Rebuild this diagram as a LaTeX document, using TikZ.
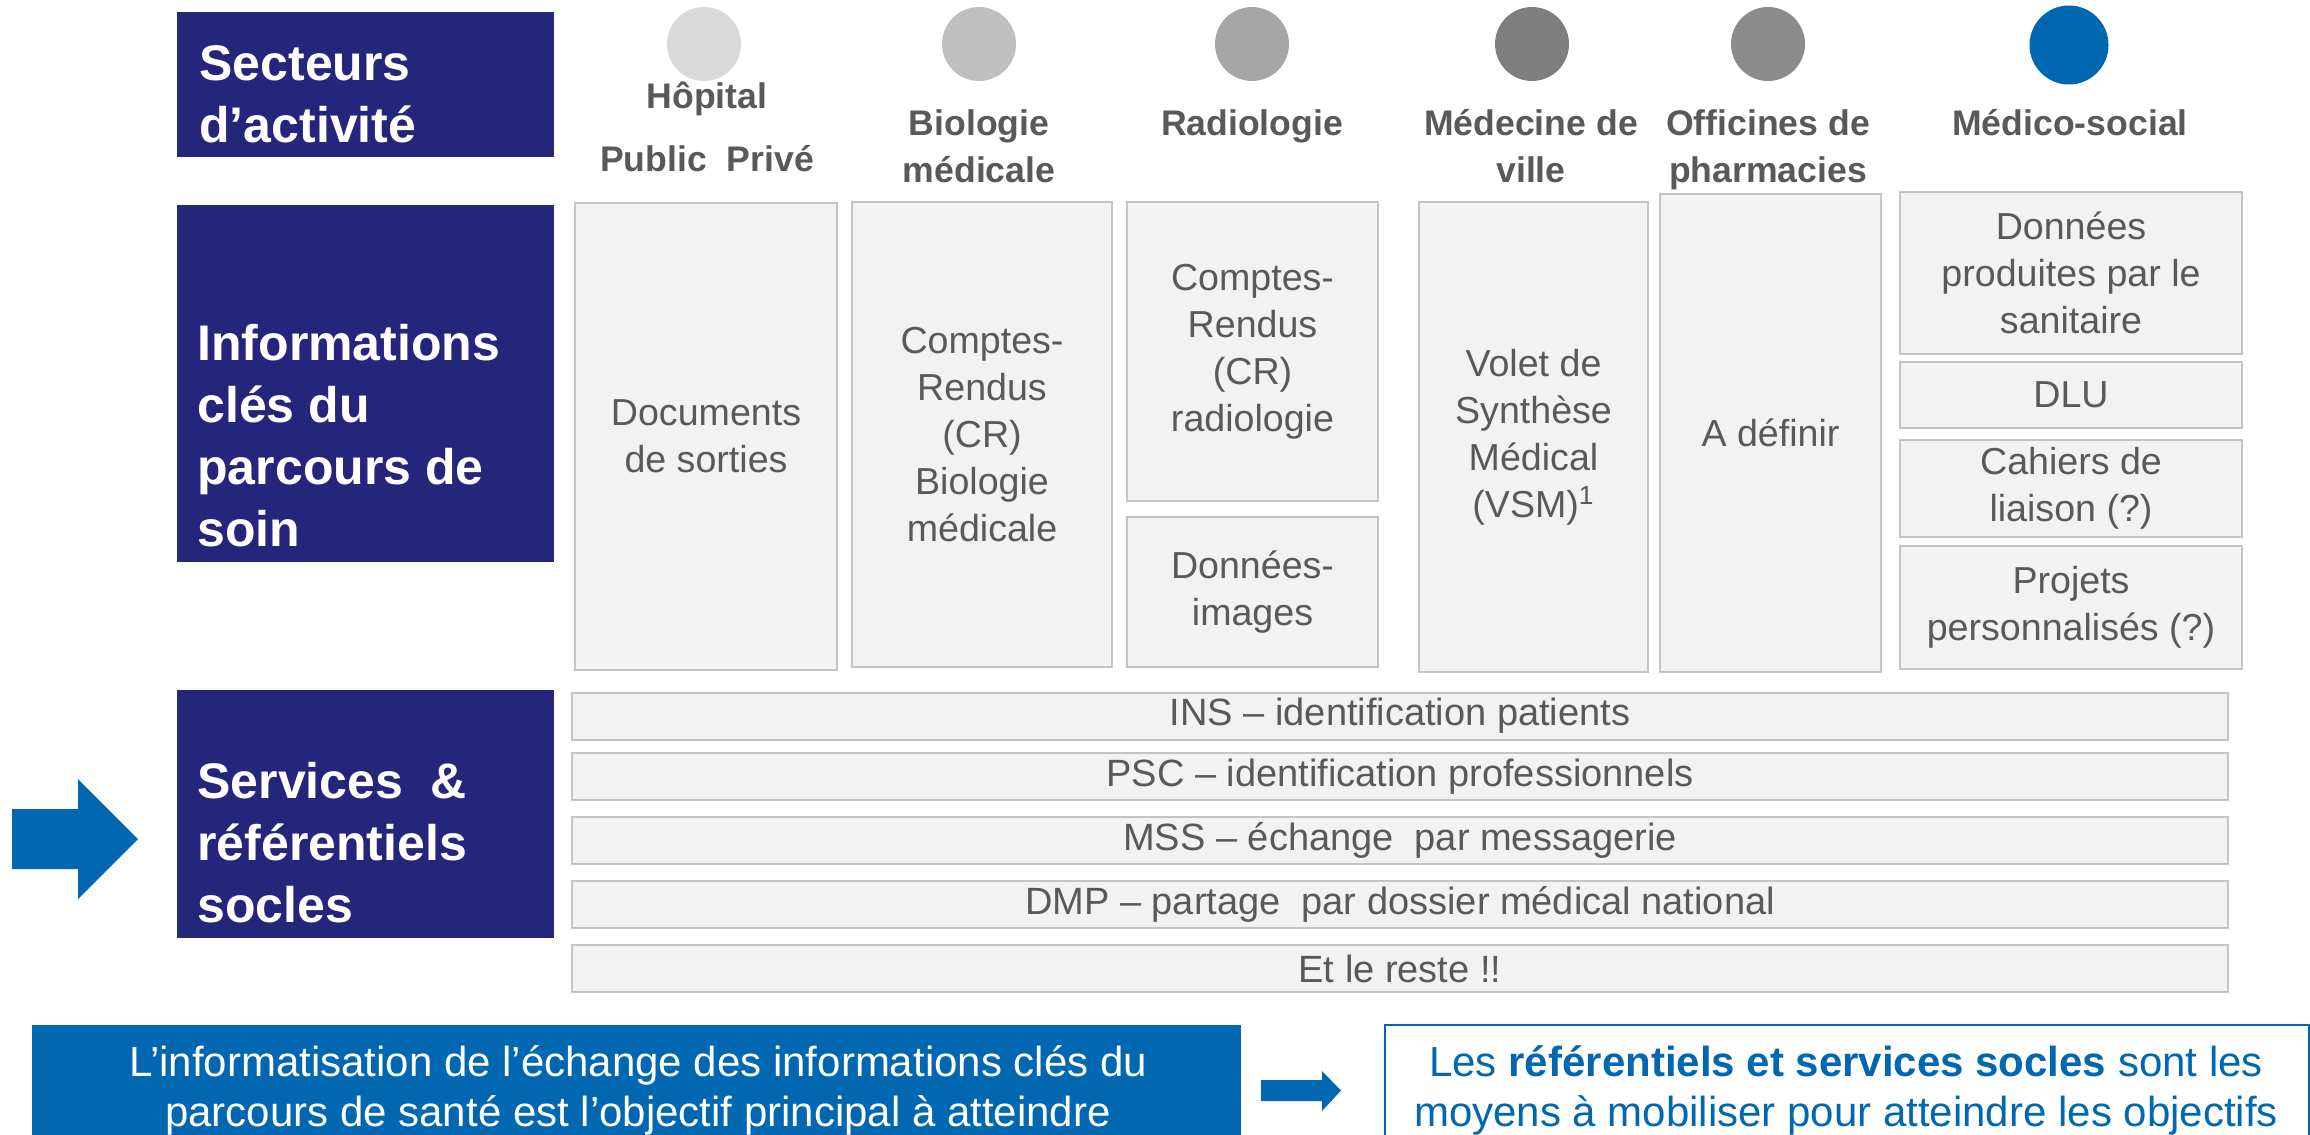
\documentclass[tikz,border=0pt]{standalone}
\usepackage{fontspec}
\setmainfont{Liberation Sans}
\definecolor{navy}{RGB}{35,38,122}
\definecolor{blu}{RGB}{0,103,176}
\definecolor{txtgray}{RGB}{89,89,89}
\definecolor{boxfill}{RGB}{242,242,242}
\definecolor{boxline}{RGB}{196,196,196}
\definecolor{c1}{RGB}{217,217,217}
\definecolor{c2}{RGB}{191,191,191}
\definecolor{c3}{RGB}{166,166,166}
\definecolor{c4}{RGB}{127,127,127}
\definecolor{c5}{RGB}{140,140,140}
\tikzset{
  navybox/.style={fill=navy, draw=none, inner sep=0pt, minimum width=188.5pt},
  navytxt/.style={text=white, font=\fontsize{25}{31}\selectfont\bfseries, align=left, inner sep=0pt, anchor=south west},
  gbox/.style={fill=boxfill, draw=boxline, line width=1pt, inner sep=0pt, align=center, text=txtgray, font=\fontsize{18.8}{23.5}\selectfont},
  bar/.style={gbox, font=\fontsize{19}{23.5}\selectfont, minimum width=828pt, minimum height=23.5pt},
  hlabel/.style={text=txtgray, font=\fontsize{17.8}{23.5}\selectfont\bfseries, align=center, inner sep=0pt, anchor=north},
  dot/.style={circle, inner sep=0pt, minimum size=37pt, draw=none},
  bottxt/.style={font=\fontsize{21}{25}\selectfont, align=center, inner sep=0pt, anchor=north}
}
\begin{document}
\begin{tikzpicture}[x=0.5pt,y=-0.5pt]
\useasboundingbox (0,0) rectangle (2310,1134);

% left navy header boxes
\node[navybox, minimum height=72.5pt] (sect) at (365.5,84.5) {};
\node[navytxt] (sectT) at (199,143) {Secteurs\\d’activité};
\node[navybox, minimum height=178.5pt] (info) at (365.5,383.5) {};
\node[navytxt] (infoT) at (197,547) {Informations\\clés du\\parcours de\\soin};
\node[navybox, minimum height=124pt] (serv) at (365.5,814) {};
\node[navytxt] (servT) at (197,923) {Services\ \ \&\\référentiels\\socles};

% left block arrow
\fill[blu] (12,809) -- (78,809) -- (78,779) -- (138,839) -- (78,899) -- (78,869) -- (12,869) -- cycle;

% sector circles
\node[dot, fill=c1] (d1) at (704,44) {};
\node[dot, fill=c2] (d2) at (979,44) {};
\node[dot, fill=c3] (d3) at (1252,44) {};
\node[dot, fill=c4] (d4) at (1532,44) {};
\node[dot, fill=c5] (d5) at (1768,44) {};
\node[dot, fill=blu, minimum size=39.5pt] (d6) at (2069,45) {};

% sector labels
\node[hlabel, font=\fontsize{17.8}{31.5}\selectfont\bfseries] (l1) at (707,82) {Hôpital\\Public\ \ Privé};
\node[hlabel] (l2) at (979,109) {Biologie\\médicale};
\node[hlabel] (l3) at (1252,109) {Radiologie};
\node[hlabel] (l4) at (1531,109) {Médecine de\\ville};
\node[hlabel] (l5) at (1768,109) {Officines de\\pharmacies};
\node[hlabel] (l6) at (2070,109) {Médico-social};

% key information boxes
\node[gbox, minimum width=131pt, minimum height=233.5pt] (doc) at (706,436.5) {Documents\\de sorties};
\node[gbox, minimum width=130pt, minimum height=232.5pt] (bio) at (982,434.5) {Comptes-\\Rendus\\(CR)\\Biologie\\médicale};
\node[gbox, minimum width=125.5pt, minimum height=149.5pt] (radcr) at (1252.5,351.5) {Comptes-\\Rendus\\(CR)\\radiologie};
\node[gbox, minimum width=125.5pt, minimum height=75pt] (radimg) at (1252.5,592) {Données-\\images};
\node[gbox, minimum width=114.5pt, minimum height=235pt] (vsm) at (1533.5,437) {Volet de\\Synthèse\\Médical\\(VSM)\textsuperscript{1}};
\node[gbox, minimum width=110.5pt, minimum height=239pt] (adef) at (1770.5,433) {A définir};
\node[gbox, minimum width=171pt, minimum height=81pt] (msdon) at (2071,273) {Données\\produites par le\\sanitaire};
\node[gbox, minimum width=171pt, minimum height=33pt] (dlu) at (2071,395) {DLU};
\node[gbox, minimum width=171pt, minimum height=48.5pt] (cah) at (2071,488.5) {Cahiers de\\liaison (?)};
\node[gbox, minimum width=171pt, minimum height=61.5pt] (proj) at (2071,607.5) {Projets\\personnalisés (?)};

% service bars
\node[bar] (ins) at (1400,716) {INS – identification patients};
\node[bar] (psc) at (1400,776.5) {PSC – identification professionnels};
\node[bar] (mss) at (1400,840.5) {MSS – échange\ \ par messagerie};
\node[bar] (dmp) at (1400,904) {DMP – partage\ \ par dossier médical national};
\node[bar] (rest) at (1400,968.5) {Et le reste !!};

% bottom conclusion
\node[fill=blu, draw=none, inner sep=0pt, minimum width=604.5pt, minimum height=60pt, anchor=north west] (goal) at (32,1025) {};
\node[bottxt, text=white] (goalT) at (638,1045) {L’informatisation de l’échange des informations clés du\\parcours de santé est l’objectif principal à atteindre};
\fill[blu] (1261,1080) -- (1322,1080) -- (1322,1071) -- (1341,1090.5) -- (1322,1111) -- (1322,1101) -- (1261,1101) -- cycle;
\node[fill=white, draw=blu, line width=1pt, inner sep=0pt, minimum width=462pt, minimum height=60pt, anchor=north west] (means) at (1384,1024) {};
\node[bottxt, text=blu] (meansT) at (1846,1045) {Les \textbf{référentiels et services socles} sont les\\moyens à mobiliser pour atteindre les objectifs};
\end{tikzpicture}
\end{document}
